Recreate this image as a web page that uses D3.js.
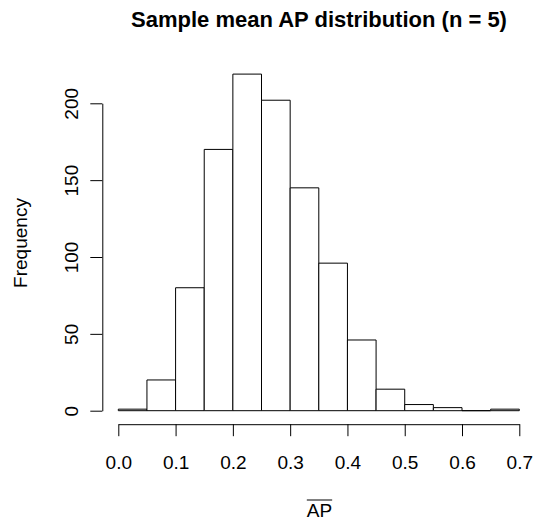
<!DOCTYPE html>
<html>
<head>
<meta charset="utf-8">
<script src="https://cdn.jsdelivr.net/npm/d3@7"></script>
<style>
  html, body { margin: 0; padding: 0; background: #fff; }
  svg { display: block; font-family: "Liberation Sans", Arial, Helvetica, sans-serif; }
</style>
</head>
<body>
<svg id="chart" width="537" height="521"></svg>
<script>
// ---- data ----
const binStarts = [0.00, 0.05, 0.10, 0.15, 0.20, 0.25, 0.30, 0.35, 0.40, 0.45, 0.50, 0.55, 0.60, 0.65];
const binWidth = 0.05;
const counts    = [1, 20, 80, 170, 219, 202, 145, 96, 46, 14, 4, 2, 0, 1];
const xTicks = [0.0, 0.1, 0.2, 0.3, 0.4, 0.5, 0.6, 0.7];
const yTicks = [0, 50, 100, 150, 200];
const title = "Sample mean AP distribution (n = 5)";
const xLabel = "AP";
const yLabel = "Frequency";

// ---- layout ----
const svg = d3.select("#chart");
const x = d3.scaleLinear().domain([0, 0.7]).range([118.3, 519.3]);
const y = d3.scaleLinear().domain([0, 200]).range([410.7, 103.3]);
const axisX = 102.3;   // y-axis line position
const axisY = 424.2;   // x-axis line position
const fs = 19;

// bars (drawn as closed paths so empty bins still show a baseline segment)
svg.append("g")
  .selectAll("path")
  .data(binStarts.map((s, i) => ({ s, c: counts[i] })))
  .join("path")
  .attr("d", d => {
    const x0 = x(d.s), x1 = x(d.s + binWidth), y0 = y(0), y1 = y(d.c);
    return `M${x0},${y0}V${y1}H${x1}V${y0}Z`;
  })
  .attr("fill", "#fff")
  .attr("stroke", "#000")
  .attr("stroke-width", 1);

// x axis
const gx = svg.append("g")
  .attr("transform", `translate(0,${axisY})`)
  .call(d3.axisBottom(x).tickValues(xTicks).tickFormat(d3.format(".1f")).tickSize(12).tickSizeOuter(0));
gx.select(".domain").attr("stroke", "#000");
gx.selectAll(".tick line").attr("stroke", "#000");
gx.selectAll(".tick text")
  .attr("y", 45).attr("dy", 0)
  .attr("font-size", fs).attr("font-family", "Liberation Sans, Arial, sans-serif").attr("fill", "#000");

// y axis
const gy = svg.append("g")
  .attr("transform", `translate(${axisX},0)`)
  .call(d3.axisLeft(y).tickValues(yTicks).tickSize(12).tickSizeOuter(0));
gy.select(".domain").attr("stroke", "#000");
gy.selectAll(".tick line").attr("stroke", "#000");
gy.selectAll(".tick text")
  .attr("transform", "rotate(-90)")
  .attr("x", 0).attr("y", -24).attr("dy", 0)
  .attr("text-anchor", "middle")
  .attr("font-size", fs).attr("font-family", "Liberation Sans, Arial, sans-serif").attr("fill", "#000");

// title
svg.append("text")
  .attr("x", 319).attr("y", 26.7)
  .attr("text-anchor", "middle")
  .attr("font-weight", "bold")
  .attr("font-size", 22)
  .text(title);

// y label
svg.append("text")
  .attr("transform", `translate(27,243) rotate(-90)`)
  .attr("text-anchor", "middle")
  .attr("font-size", fs)
  .text(yLabel);

// x label with overline
const xl = svg.append("text")
  .attr("x", 319.5).attr("y", 517)
  .attr("text-anchor", "middle")
  .attr("font-size", fs)
  .text(xLabel);
const bb = xl.node().getBBox();
svg.append("line")
  .attr("x1", bb.x).attr("x2", bb.x + bb.width)
  .attr("y1", 500).attr("y2", 500)
  .attr("stroke", "#000").attr("stroke-width", 1);
</script>
</body>
</html>
